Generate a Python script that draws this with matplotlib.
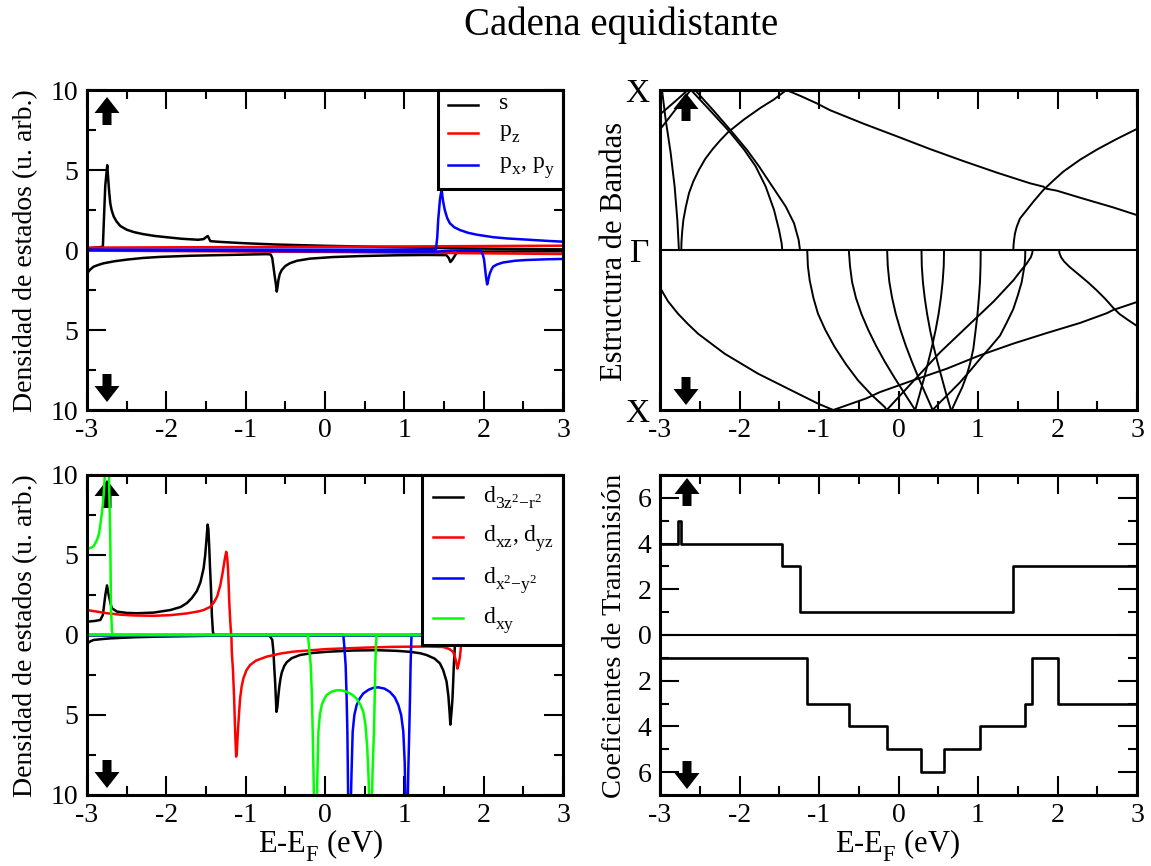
import matplotlib
matplotlib.use("Agg")
import matplotlib.pyplot as plt
import matplotlib._mathtext as mathtext_internals
from matplotlib.patches import Polygon, Rectangle
from matplotlib.lines import Line2D
from matplotlib.ticker import MultipleLocator, FuncFormatter, FixedLocator

plt.rcParams.update({
    "font.family": "Liberation Serif",
    "mathtext.fontset": "custom",
    "mathtext.rm": "Liberation Serif",
    "mathtext.it": "Liberation Serif:italic",
    "mathtext.bf": "Liberation Serif:bold",
    "axes.unicode_minus": False,
})
# deeper, slightly larger subscripts for the orbital labels
mathtext_internals.FontConstantsBase.sub1 = 0.6
mathtext_internals.FontConstantsBase.sub2 = 0.7
mathtext_internals.SHRINK_FACTOR = 0.74

# ---------------- DOS: s and p orbitals (E - EF in eV, DOS; spin down negative)
s_up = [(-3.0, 0.1), (-2.80, 0.2), (-2.79, 1.5), (-2.77, 4.0), (-2.745, 5.3), (-2.735, 4.6),
        (-2.72, 3.6), (-2.706, 2.9), (-2.69, 2.5), (-2.664, 2.1), (-2.63, 1.8), (-2.58, 1.5),
        (-2.5, 1.27), (-2.41, 1.12), (-2.3, 1.0), (-2.15, 0.88), (-2.0, 0.8), (-1.8, 0.7),
        (-1.60, 0.64), (-1.53, 0.68), (-1.50, 0.8), (-1.477, 0.875), (-1.46, 0.7), (-1.445, 0.55),
        (-1.3, 0.5), (-1.0, 0.42), (-0.6, 0.34), (0.02, 0.26), (0.86, 0.18), (1.70, 0.1),
        (3.0, 0.04)]
s_dn = [(-3.0, -1.46), (-2.96, -1.22), (-2.916, -1.04), (-2.85, -0.92), (-2.79, -0.83),
        (-2.65, -0.7), (-2.496, -0.6), (-2.3, -0.5), (-2.077, -0.43), (-1.7, -0.36),
        (-1.237, -0.31), (-0.734, -0.26), (-0.684, -0.28), (-0.665, -0.5), (-0.65, -1.04),
        (-0.635, -1.6), (-0.62, -2.1), (-0.608, -2.6), (-0.598, -2.3), (-0.587, -1.875),
        (-0.57, -1.5), (-0.545, -1.25), (-0.5, -1.0), (-0.44, -0.82), (-0.35, -0.67),
        (-0.19, -0.54), (0.1, -0.44), (0.44, -0.38), (0.9, -0.33), (1.28, -0.31), (1.53, -0.32),
        (1.56, -0.5), (1.58, -0.75), (1.60, -0.65), (1.616, -0.52), (1.65, -0.25), (1.68, -0.1),
        (3.0, -0.08)]
pz_up = [(-3.0, 0.15), (0.0, 0.2), (3.0, 0.27)]
pz_dn = [(-3.0, -0.04), (0.0, -0.12), (3.0, -0.25)]
pxy_up = [(-3.0, 0.02), (1.398, 0.02), (1.415, 0.8), (1.427, 1.9), (1.45, 3.2), (1.47, 3.8),
          (1.48, 3.35), (1.49, 3.0), (1.51, 2.5), (1.54, 2.0), (1.574, 1.67), (1.63, 1.42),
          (1.70, 1.25), (1.8, 1.08), (1.91, 0.96), (2.12, 0.8), (2.3, 0.72), (2.54, 0.65),
          (2.8, 0.57), (3.0, 0.52)]
pxy_dn = [(-3.0, 0.0), (-0.818, -0.06), (0.86, -0.1), (1.398, -0.1), (1.60, -0.04), (1.96, 0.0),
          (1.99, -0.3), (2.005, -0.6), (2.015, -1.04), (2.03, -1.7), (2.044, -2.15), (2.055, -1.95),
          (2.065, -1.7), (2.078, -1.46), (2.1, -1.2), (2.12, -1.04), (2.17, -0.9), (2.245, -0.78),
          (2.4, -0.67), (2.54, -0.625), (2.8, -0.58), (3.0, -0.56)]

# ---------------- DOS: d orbitals
dz2_up = [(-3.0, 0.83), (-2.90, 0.88), (-2.832, 0.94), (-2.80, 1.25), (-2.769, 2.5), (-2.748, 3.1),
          (-2.727, 2.5), (-2.70, 1.9), (-2.685, 1.67), (-2.622, 1.46), (-2.5, 1.38), (-2.37, 1.36),
          (-2.16, 1.4), (-1.95, 1.56), (-1.82, 1.75), (-1.74, 2.0), (-1.68, 2.3), (-1.615, 2.75),
          (-1.57, 3.3), (-1.53, 4.17), (-1.51, 5.0), (-1.495, 5.9), (-1.48, 6.9), (-1.47, 6.6),
          (-1.46, 5.6), (-1.45, 4.3), (-1.438, 3.0), (-1.426, 1.25), (-1.413, 0.2), (-1.40, 0.0),
          (3.0, 0.0)]
dz2_dn = [(-3.0, -0.55), (-2.96, -0.4), (-2.916, -0.31), (-2.8, -0.25), (-2.706, -0.21),
          (-2.4, -0.14), (-2.077, -0.1), (-1.447, -0.05), (-0.70, -0.04), (-0.665, -0.3),
          (-0.65, -1.04), (-0.64, -2.0), (-0.629, -2.9), (-0.612, -4.8), (-0.6, -4.5),
          (-0.59, -3.9), (-0.575, -3.2), (-0.56, -2.7), (-0.545, -2.35), (-0.515, -1.95),
          (-0.482, -1.7), (-0.42, -1.45), (-0.314, -1.25), (-0.15, -1.12), (0.021, -1.05),
          (0.35, -0.97), (0.651, -0.95), (0.9, -0.99), (1.07, -1.05), (1.2, -1.14), (1.28, -1.25),
          (1.38, -1.47), (1.448, -1.77), (1.49, -2.2), (1.532, -2.9), (1.555, -3.8), (1.57, -4.8),
          (1.58, -5.6), (1.595, -4.8), (1.607, -3.96), (1.616, -2.9), (1.624, -1.875),
          (1.64, -0.42), (1.66, 0.0), (3.0, 0.0)]
dxz_up = [(-3.0, 1.56), (-2.9, 1.48), (-2.748, 1.36), (-2.58, 1.27), (-2.4, 1.22), (-2.16, 1.2),
          (-1.95, 1.24), (-1.74, 1.35), (-1.6, 1.47), (-1.53, 1.56), (-1.45, 1.75), (-1.405, 2.0),
          (-1.36, 2.4), (-1.32, 3.1), (-1.29, 3.9), (-1.265, 4.7), (-1.245, 5.2), (-1.232, 4.8),
          (-1.222, 4.1), (-1.215, 3.2), (-1.207, 2.1), (-1.196, 1.0), (-1.186, 0.2), (-1.18, 0.0),
          (3.0, 0.0)]
dxz_dn = [(-3.0, 0.0), (-1.18, 0.0), (-1.175, -1.04), (-1.16, -2.2), (-1.145, -4.0), (-1.133, -6.0),
          (-1.12, -7.6), (-1.11, -7.2), (-1.1, -6.2), (-1.085, -5.0), (-1.07, -3.96), (-1.05, -3.2),
          (-1.028, -2.7), (-0.99, -2.2), (-0.944, -1.875), (-0.87, -1.6), (-0.734, -1.35),
          (-0.55, -1.15), (-0.398, -1.04), (0.021, -0.88), (0.5, -0.79), (0.86, -0.74),
          (1.3, -0.72), (1.49, -0.75), (1.57, -0.88), (1.616, -1.06), (1.645, -1.5), (1.67, -2.1),
          (1.685, -1.8), (1.70, -1.4), (1.72, -0.42), (1.73, 0.0), (3.0, 0.0)]
dx2y2_up = [(-3.0, 0.0), (3.0, 0.0)]
dx2y2_dn = [(-3.0, 0.0), (0.231, 0.0), (0.245, -0.8), (0.26, -1.875), (0.272, -3.8), (0.282, -6.04),
            (0.288, -8.5), (0.294, -11.0), (0.323, -11.0), (0.335, -8.5), (0.349, -6.04),
            (0.37, -5.0), (0.399, -4.375), (0.44, -3.95), (0.483, -3.65), (0.55, -3.42),
            (0.61, -3.3), (0.672, -3.27), (0.75, -3.35), (0.819, -3.56), (0.88, -3.9),
            (0.924, -4.375), (0.96, -5.0), (0.987, -6.04), (1.005, -8.0), (1.016, -11.0),
            (1.041, -11.0), (1.05, -8.5), (1.062, -6.04), (1.072, -3.8), (1.079, -1.875),
            (1.085, -0.8), (1.091, 0.0), (3.0, 0.0)]
dxy_up = [(-3.0, 5.375), (-2.95, 5.45), (-2.916, 5.55), (-2.874, 5.94), (-2.85, 6.3),
          (-2.832, 6.875), (-2.81, 7.7), (-2.79, 8.75), (-2.769, 10.5), (-2.75, 12.0),
          (-2.725, 10.5), (-2.715, 8.0), (-2.706, 5.8), (-2.698, 1.67), (-2.685, 0.2),
          (-2.675, 0.0), (3.0, 0.0)]
dxy_dn = [(-3.0, 0.0), (-0.215, 0.0), (-0.2, -0.8), (-0.18, -1.875), (-0.165, -3.8),
          (-0.155, -6.04), (-0.145, -8.5), (-0.138, -11.0), (-0.104, -11.0), (-0.095, -8.5),
          (-0.083, -6.04), (-0.065, -5.0), (-0.041, -4.375), (-0.01, -4.0), (0.021, -3.75),
          (0.08, -3.55), (0.147, -3.45), (0.21, -3.46), (0.273, -3.55), (0.34, -3.72),
          (0.399, -3.98), (0.45, -4.4), (0.483, -4.8), (0.51, -5.6), (0.533, -7.1), (0.55, -9.0),
          (0.559, -11.0), (0.588, -11.0), (0.60, -8.5), (0.617, -6.04), (0.627, -3.8),
          (0.634, -1.875), (0.643, -0.6), (0.651, 0.0), (3.0, 0.0)]

# ---------------- Band structure: (E, k); k>0 spin up (Gamma->X), k<0 spin down
band_up_1 = [(-2.975, 1.0), (-2.929, 0.816), (-2.866, 0.607), (-2.816, 0.397), (-2.782, 0.188),
             (-2.762, 0.0)]
band_up_2 = [(-2.732, 0.0), (-2.730, 0.05), (-2.72, 0.12), (-2.706, 0.188), (-2.675, 0.27),
             (-2.635, 0.356), (-2.58, 0.43), (-2.509, 0.502), (-2.43, 0.57), (-2.342, 0.628),
             (-2.245, 0.684), (-2.145, 0.736), (-1.943, 0.816), (-1.734, 0.889), (-1.566, 0.941),
             (-1.41, 1.0)]
band_up_3 = [(-1.41, 1.0), (-1.22, 0.96), (-1.03, 0.917), (-0.862, 0.874), (-0.443, 0.790),
             (-0.023, 0.711), (0.396, 0.631), (0.815, 0.556), (1.235, 0.484), (1.654, 0.417),
             (1.822, 0.396), (1.86, 0.383), (1.99, 0.371), (2.283, 0.327), (2.702, 0.266),
             (3.0, 0.218)]
band_up_4 = [(1.444, 0.0), (1.447, 0.03), (1.453, 0.061), (1.465, 0.103), (1.487, 0.145),
             (1.528, 0.197), (1.612, 0.249), (1.696, 0.302), (1.822, 0.375), (1.95, 0.435),
             (2.073, 0.49), (2.283, 0.564), (2.493, 0.627), (2.745, 0.694), (3.0, 0.757)]
band_up_5 = [(-2.61, 1.0), (-2.363, 0.868), (-2.132, 0.743), (-1.943, 0.628), (-1.797, 0.523),
             (-1.671, 0.397), (-1.566, 0.251), (-1.503, 0.126), (-1.470, 0.042), (-1.462, 0.0)]
band_up_6 = [(-2.56, 1.0), (-2.321, 0.868), (-2.103, 0.743), (-1.910, 0.628), (-1.755, 0.523),
             (-1.587, 0.397), (-1.419, 0.272), (-1.314, 0.167), (-1.256, 0.063), (-1.239, 0.0)]
band_up_7 = [(-3.0, 0.847), (-2.782, 0.941), (-2.65, 1.0)]
band_up_8 = [(-3.0, 0.753), (-2.614, 1.0)]

band_dn_1 = [(-3.0, -0.235), (-2.9, -0.32), (-2.774, -0.398), (-2.65, -0.462), (-2.522, -0.523),
             (-2.187, -0.648), (-1.767, -0.773), (-1.348, -0.877), (-1.013, -0.960), (-0.82, -1.0)]
band_dn_2 = [(-0.82, -1.0), (-0.403, -0.927), (-0.233, -0.888), (0.186, -0.814), (0.606, -0.742),
             (1.025, -0.658), (1.444, -0.585), (1.864, -0.519), (2.283, -0.456), (2.62, -0.395),
             (2.70, -0.375), (2.76, -0.365), (3.0, -0.325)]
band_dn_3 = [(2.02, 0.0), (2.025, -0.02), (2.045, -0.045), (2.08, -0.07), (2.15, -0.105),
             (2.283, -0.16), (2.39, -0.205), (2.493, -0.252), (2.6, -0.305), (2.702, -0.362),
             (2.78, -0.4), (2.88, -0.435), (3.0, -0.475)]
band_dn_4 = [(-1.148, 0.0), (-1.140, -0.1), (-1.117, -0.19), (-1.07, -0.3), (-1.013, -0.398),
             (-0.92, -0.5), (-0.803, -0.606), (-0.66, -0.715), (-0.509, -0.815), (-0.34, -0.905),
             (-0.174, -0.981), (-0.15, -1.0)]
band_dn_5 = [(-0.625, 0.0), (-0.61, -0.1), (-0.584, -0.2), (-0.535, -0.3), (-0.466, -0.4),
             (-0.38, -0.5), (-0.281, -0.6), (-0.17, -0.7), (-0.048, -0.8), (0.08, -0.9),
             (0.21, -1.0)]
band_dn_6 = [(-0.143, 0.0), (-0.135, -0.1), (-0.115, -0.2), (-0.08, -0.3), (-0.034, -0.4),
             (0.025, -0.5), (0.093, -0.6), (0.17, -0.7), (0.253, -0.8), (0.341, -0.9),
             (0.43, -1.0)]
band_dn_7 = [(0.289, 0.0), (0.293, -0.1), (0.307, -0.2), (0.33, -0.3), (0.36, -0.4),
             (0.397, -0.5), (0.44, -0.6), (0.49, -0.7), (0.545, -0.8), (0.60, -0.9), (0.66, -1.0)]
band_dn_8 = [(0.573, 0.0), (0.569, -0.1), (0.555, -0.2), (0.533, -0.3), (0.504, -0.4),
             (0.467, -0.5), (0.423, -0.6), (0.374, -0.7), (0.322, -0.8), (0.267, -0.9),
             (0.21, -1.0)]
band_dn_9 = [(1.034, 0.0), (1.032, -0.1), (1.025, -0.202), (1.011, -0.3), (0.992, -0.41),
             (0.968, -0.51), (0.941, -0.619), (0.90, -0.71), (0.857, -0.785), (0.80, -0.86),
             (0.752, -0.91), (0.669, -1.0)]
band_dn_10 = [(1.595, 0.0), (1.593, -0.05), (1.585, -0.098), (1.549, -0.202), (1.5, -0.285),
              (1.444, -0.369), (1.36, -0.455), (1.277, -0.535), (1.15, -0.61), (1.025, -0.681),
              (0.9, -0.755), (0.774, -0.827), (0.645, -0.892), (0.522, -0.952), (0.43, -1.0)]
band_dn_11 = [(1.688, 0.0), (1.682, -0.02), (1.665, -0.045), (1.612, -0.085), (1.53, -0.135),
              (1.444, -0.19), (1.2, -0.32), (0.941, -0.442), (0.522, -0.64), (0.186, -0.82),
              (-0.148, -1.0)]

# ---------------- Transmission coefficients (step edges in eV, channel counts)
t_up_edges = [-3.0, -2.77, -2.73, -1.463, -1.245, 1.441, 3.0]
t_up_vals = [4, 5, 4, 3, 1, 3]
t_dn_edges = [-3.0, -1.148, -0.625, -0.143, 0.289, 0.573, 1.03, 1.587, 1.684, 2.01, 3.0]
t_dn_vals = [1, 3, 4, 5, 6, 5, 4, 3, 1, 3]

W, H = 1151, 866
fig = plt.figure(figsize=(W / 100, H / 100), dpi=100)

BOX_TL = (87, 90, 563, 410)
BOX_TR = (660, 90, 1137, 410)
BOX_BL = (87, 475, 563, 795)
BOX_BR = (660, 475, 1137, 795)


def add_axes_px(box):
    l, t, r, b = box
    return fig.add_axes([l / W, 1 - b / H, (r - l) / W, (b - t) / H])


def style(ax):
    for sp in ax.spines.values():
        sp.set_linewidth(2.2)
        sp.set_zorder(20)
    ax.set_xlim(-3, 3)
    ax.xaxis.set_major_locator(MultipleLocator(1))
    ax.xaxis.set_minor_locator(MultipleLocator(0.5))
    ax.tick_params(which="both", direction="in", top=True, right=True, width=1.5,
                   labelsize=20, pad=6)
    ax.tick_params(which="major", length=13.5)
    ax.tick_params(which="minor", length=6.5)
    ax.xaxis.set_major_formatter(FuncFormatter(lambda v, p: f"{v:g}"))


abs_fmt = FuncFormatter(lambda v, p: f"{abs(v):g}")


def plot_pairs(ax, pts, color, lw=1.8, z=2):
    ax.plot([p[0] for p in pts], [p[1] for p in pts], color=color, lw=lw, zorder=z,
            solid_joinstyle="round")


def block_arrow(ax, box, cx, tip, up):
    l, t, r, b = box
    hw, sw, hh, tot = 12.5, 4.5, 16, 28
    s = 1 if up else -1
    pts = [(cx, tip), (cx + hw, tip + s * hh), (cx + sw, tip + s * hh), (cx + sw, tip + s * tot),
           (cx - sw, tip + s * tot), (cx - sw, tip + s * hh), (cx - hw, tip + s * hh)]
    frac = [((x - l) / (r - l), (b - y) / (b - t)) for x, y in pts]
    ax.add_patch(Polygon(frac, closed=True, transform=ax.transAxes, facecolor="black",
                         edgecolor="none", zorder=1.5))


def legend_box(ax, x0, y0, entries, xl, xt, ys, fs=17, dy=0.012):
    ax.add_patch(Rectangle((x0, y0), 1 - x0, 1 - y0, transform=ax.transAxes, facecolor="white",
                           edgecolor="black", linewidth=2.2, zorder=10, clip_on=False))
    for (lab, col), y in zip(entries, ys):
        ax.add_line(Line2D(xl, [y, y], transform=ax.transAxes, color=col, lw=1.8, zorder=11))
        ax.text(xt, y - dy, lab, transform=ax.transAxes, fontsize=fs, va="baseline",
                ha="left", zorder=11)


# ---- top left: s, p DOS
ax1 = add_axes_px(BOX_TL)
style(ax1)
ax1.set_ylim(-10, 10)
ax1.yaxis.set_major_locator(MultipleLocator(5))
ax1.yaxis.set_minor_locator(MultipleLocator(2.5))
ax1.yaxis.set_major_formatter(abs_fmt)
for pts, c in [(s_up, "black"), (s_dn, "black"), (pz_up, "red"), (pz_dn, "red"),
               (pxy_up, "blue"), (pxy_dn, "blue")]:
    plot_pairs(ax1, pts, c)
legend_box(ax1, 0.737, 0.690,
           [("s", "black"), (r"p$_\mathrm{z}$", "red"),
            (r"p$_\mathrm{x}$, p$_\mathrm{y}$", "blue")],
           [0.758, 0.821], 0.866, [0.953, 0.866, 0.766])
block_arrow(ax1, BOX_TL, 107, 97, True)
block_arrow(ax1, BOX_TL, 107, 402, False)

# ---- bottom left: d DOS
ax3 = add_axes_px(BOX_BL)
style(ax3)
ax3.set_ylim(-10, 10)
ax3.yaxis.set_major_locator(MultipleLocator(5))
ax3.yaxis.set_minor_locator(MultipleLocator(2.5))
ax3.yaxis.set_major_formatter(abs_fmt)
for pts, c in [(dz2_up, "black"), (dz2_dn, "black"), (dxz_up, "red"), (dxz_dn, "red"),
               (dx2y2_up, "blue"), (dx2y2_dn, "blue"), (dxy_up, "#00ff00"),
               (dxy_dn, "#00ff00")]:
    plot_pairs(ax3, pts, c)
legend_box(ax3, 0.703, 0.469,
           [(r"d$_{\mathrm{3z}^{2}\mathrm{-r}^{2}}$", "black"),
            (r"d$_\mathrm{xz}$, d$_\mathrm{yz}$", "red"),
            (r"d$_{\mathrm{x}^{2}\mathrm{-y}^{2}}$", "blue"),
            (r"d$_\mathrm{xy}$", "#00ff00")],
           [0.727, 0.790], 0.8326, [0.930, 0.807, 0.677, 0.552], dy=0.016)
block_arrow(ax3, BOX_BL, 107, 480, True)
block_arrow(ax3, BOX_BL, 107, 788, False)

# ---- top right: band structure
ax2 = add_axes_px(BOX_TR)
style(ax2)
ax2.set_ylim(-1, 1)
ax2.yaxis.set_major_locator(FixedLocator([-1, 0, 1]))
ax2.yaxis.set_minor_locator(FixedLocator([]))
ax2.set_yticklabels(["X", "Γ", "X"])
ax2.tick_params(axis="y", which="both", length=0, labelsize=24, pad=8)
ax2.axhline(0, color="black", lw=1.5, zorder=2)
for band in [band_up_1, band_up_2, band_up_3, band_up_4, band_up_5, band_up_6, band_up_7,
             band_up_8, band_dn_1, band_dn_2, band_dn_3, band_dn_4, band_dn_5, band_dn_6,
             band_dn_7, band_dn_8, band_dn_9, band_dn_10, band_dn_11]:
    plot_pairs(ax2, band, "black", lw=1.4)
block_arrow(ax2, BOX_TR, 686, 93, True)
block_arrow(ax2, BOX_TR, 686, 405, False)

# ---- bottom right: transmission
ax4 = add_axes_px(BOX_BR)
style(ax4)
ax4.set_ylim(-7, 7)
ax4.yaxis.set_major_locator(MultipleLocator(2))
ax4.yaxis.set_minor_locator(MultipleLocator(1))
ax4.yaxis.set_major_formatter(abs_fmt)
ax4.axhline(0, color="black", lw=1.5, zorder=2)
ax4.step(t_up_edges, t_up_vals + [t_up_vals[-1]], where="post", color="black", lw=1.9)
ax4.step(t_dn_edges, [-v for v in t_dn_vals] + [-t_dn_vals[-1]], where="post", color="black",
         lw=1.9)
block_arrow(ax4, BOX_BR, 687, 478, True)
block_arrow(ax4, BOX_BR, 687, 789, False)

# ---- labels and title
fig.text(621 / W, 1 - 25 / H, "Cadena equidistante", ha="center", va="center", fontsize=28)
fig.text(26 / W, 1 - 251 / H, "Densidad de estados (u. arb.)", rotation=90, ha="center",
         va="center", fontsize=20)
fig.text(26 / W, 1 - 636 / H, "Densidad de estados (u. arb.)", rotation=90, ha="center",
         va="center", fontsize=20)
fig.text(614 / W, 1 - 251 / H, "Estructura de Bandas", rotation=90, ha="center", va="center",
         fontsize=22)
fig.text(614 / W, 1 - 636 / H, "Coeficientes de Transmisión", rotation=90, ha="center",
         va="center", fontsize=20.5)
fig.text(321 / W, 1 - 845 / H, r"E-E$_\mathrm{F}$ (eV)", ha="center", va="center", fontsize=22)
fig.text(898 / W, 1 - 845 / H, r"E-E$_\mathrm{F}$ (eV)", ha="center", va="center", fontsize=22)

fig.savefig("out.png", dpi=100)
